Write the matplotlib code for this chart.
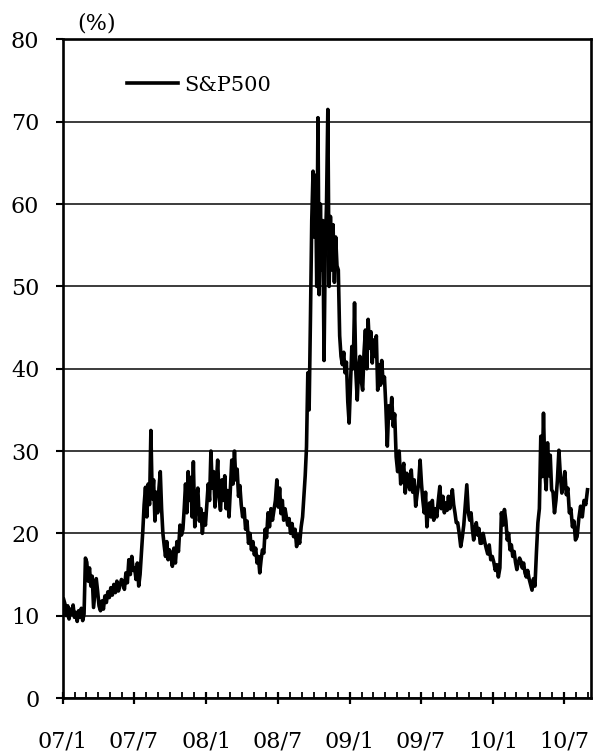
import matplotlib
matplotlib.use("Agg")
import matplotlib.pyplot as plt
import matplotlib.dates as mdates
import matplotlib.ticker as mticker
import pandas as pd

plt.rcParams['font.family'] = ['DejaVu Serif']

# S&P500 volatility (%), grouped by month
vol_2007 = [
    [12.0, 11.4, 10.0, 11.2, 9.6, 10.8, 10.2, 11.3, 9.8],
    [10.4, 9.3, 10.6, 9.8, 10.9, 9.4, 10.2, 17.0],
    [16.5, 14.2, 15.8, 13.6, 14.8, 11.0, 12.8, 14.5, 13.0],
    [11.2, 10.6, 11.8, 10.8, 12.4, 11.6, 12.9, 12.2],
    [13.4, 12.5, 13.8, 12.8, 14.2, 13.0, 13.6, 14.4],
    [14.0, 13.2, 15.2, 14.0, 16.8, 15.0, 17.2, 15.5],
    [15.8, 14.4, 16.4, 13.6, 15.0, 17.5, 20.2, 23.5, 25.6],
    [22.0, 26.0, 23.5, 32.5, 24.2, 26.5, 21.5, 25.0, 22.5],
    [25.5, 27.5, 23.0, 20.0, 18.5, 17.2, 19.0, 16.8, 18.0],
    [17.5, 16.0, 18.2, 16.4, 19.0, 17.8, 21.0, 19.8],
    [20.5, 23.0, 26.0, 22.5, 27.5, 24.0, 26.8, 22.0, 28.7],
    [20.8, 24.0, 25.5, 21.5, 23.0, 20.0, 22.4, 21.0],
]
vol_2008 = [
    [23.5, 26.0, 24.0, 30.0, 25.5, 27.5, 23.2, 26.0, 28.9],
    [24.5, 22.8, 26.5, 24.0, 27.0, 23.0, 25.2, 22.0],
    [25.5, 28.9, 26.0, 30.0, 26.5, 27.8, 24.5, 25.8, 23.5],
    [22.0, 23.0, 20.5, 21.5, 18.8, 20.0, 18.0, 19.0],
    [17.4, 18.2, 16.4, 17.2, 15.2, 16.8, 18.0, 17.6, 20.5],
    [19.5, 22.5, 20.8, 23.0, 21.6, 22.8, 24.0, 26.5],
    [23.2, 25.5, 22.4, 24.0, 21.6, 23.0, 22.0, 21.0, 21.8],
    [20.0, 21.2, 19.6, 20.5, 18.4, 19.8, 18.8, 20.8],
    [22.0, 24.5, 27.0, 30.5, 39.5, 35.0, 46.0, 58.0, 64.0],
    [56.0, 63.5, 50.0, 70.5, 49.0, 60.0, 52.0, 58.0, 41.0, 54.5],
    [60.0, 71.5, 50.0, 58.5, 52.0, 57.5, 50.5, 56.0, 52.5],
    [52.0, 44.0, 41.5, 40.5, 42.0, 39.5, 40.8, 36.0, 33.4],
]
vol_2009 = [
    [38.0, 42.7, 40.0, 48.0, 39.5, 36.2, 40.0, 41.5, 38.5],
    [37.4, 42.0, 44.7, 40.0, 46.0, 42.5, 44.5, 40.7],
    [43.5, 41.5, 44.0, 37.4, 40.5, 38.0, 41.0, 38.3, 39.0],
    [35.4, 30.6, 35.5, 34.0, 36.5, 33.0, 34.5, 29.3],
    [27.5, 30.0, 26.0, 27.3, 28.5, 24.9, 27.3, 26.1],
    [25.3, 27.7, 25.0, 26.5, 23.3, 24.8, 26.0, 28.9],
    [26.0, 24.0, 22.5, 25.0, 20.8, 23.0, 23.7, 22.0, 24.0],
    [21.6, 23.0, 22.0, 24.0, 25.7, 23.0, 24.5, 22.5],
    [23.7, 22.8, 24.5, 23.0, 24.0, 25.3, 23.5, 22.5, 21.3],
    [21.3, 20.0, 18.4, 19.5, 21.0, 23.5, 25.9, 22.5],
    [21.6, 22.5, 20.5, 19.2, 20.5, 21.3, 19.8, 20.6, 18.8],
    [18.8, 20.0, 19.0, 18.2, 17.5, 18.6, 16.8, 17.2],
]
vol_2010 = [
    [16.5, 15.5, 16.2, 14.7, 15.8, 22.5, 21.0, 22.9],
    [21.5, 19.2, 20.0, 18.0, 18.6, 17.2, 17.8, 16.5],
    [15.6, 16.4, 17.0, 16.6, 15.8, 16.4, 15.2, 14.7, 15.5],
    [14.5, 13.8, 13.1, 14.5, 13.6, 17.7, 21.3, 23.0],
    [31.8, 26.9, 34.6, 27.5, 25.3, 31.0, 27.0, 29.5, 25.3],
    [25.0, 22.5, 24.0, 26.5, 30.1, 27.0, 24.9, 26.0],
    [27.5, 24.7, 25.5, 22.5, 23.0, 20.8, 21.5, 19.2],
    [19.6, 21.8, 23.3, 22.0, 24.0, 23.5, 25.3],
]
years = [2007, 2008, 2009, 2010]
series_label = 'S&P500'


def spread(year, months):
    # spread each month's readings evenly across that month
    xs, ys = [], []
    for i, vals in enumerate(months):
        start = pd.Timestamp(year, i + 1, 1)
        span = (start + pd.offsets.MonthBegin(1)) - start
        for j, v in enumerate(vals):
            xs.append(start + span * (j + 0.5) / len(vals))
            ys.append(v)
    return xs, ys


dates, values = [], []
for yr, months in zip(years, [vol_2007, vol_2008, vol_2009, vol_2010]):
    x, y = spread(yr, months)
    dates += x
    values += y

fig = plt.figure(figsize=(5.94, 7.52), dpi=100)
ax = fig.add_axes([0.106, 0.0718, 0.8885, 0.8757])

ax.plot(dates, values, color='black', lw=2.6, label=series_label)

ax.set_ylim(0, 80)
ax.set_yticks(range(0, 81, 10))
ax.set_xlim(pd.Timestamp('2007-01-01'), pd.Timestamp('2010-09-07'))
ax.xaxis.set_major_locator(mdates.MonthLocator(bymonth=[1, 7]))
ax.xaxis.set_minor_locator(mdates.MonthLocator())
ax.xaxis.set_major_formatter(mticker.FuncFormatter(
    lambda v, pos: '%02d/%d' % (mdates.num2date(v).year % 100, mdates.num2date(v).month)))

ax.grid(axis='y', color='#1a1a1a', lw=1.2)
ax.set_axisbelow(True)
for s in ax.spines.values():
    s.set_linewidth(1.9)

ax.tick_params(axis='y', which='major', direction='out', length=5, width=1.5,
               pad=12, labelsize=16)
ax.tick_params(axis='x', which='major', direction='inout', length=9, width=1.6,
               pad=19, labelsize=16)
ax.tick_params(axis='x', which='minor', direction='in', length=4.5, width=1.3)

ax.legend(loc='upper left', bbox_to_anchor=(0.121, 0.945), frameon=False,
          fontsize=15, handlelength=2.45, handletextpad=0.3,
          borderpad=0, borderaxespad=0)

fig.text(0.162, 0.969, '(%)', fontsize=16, ha='center', va='center')

fig.savefig('out.png', dpi=100)
